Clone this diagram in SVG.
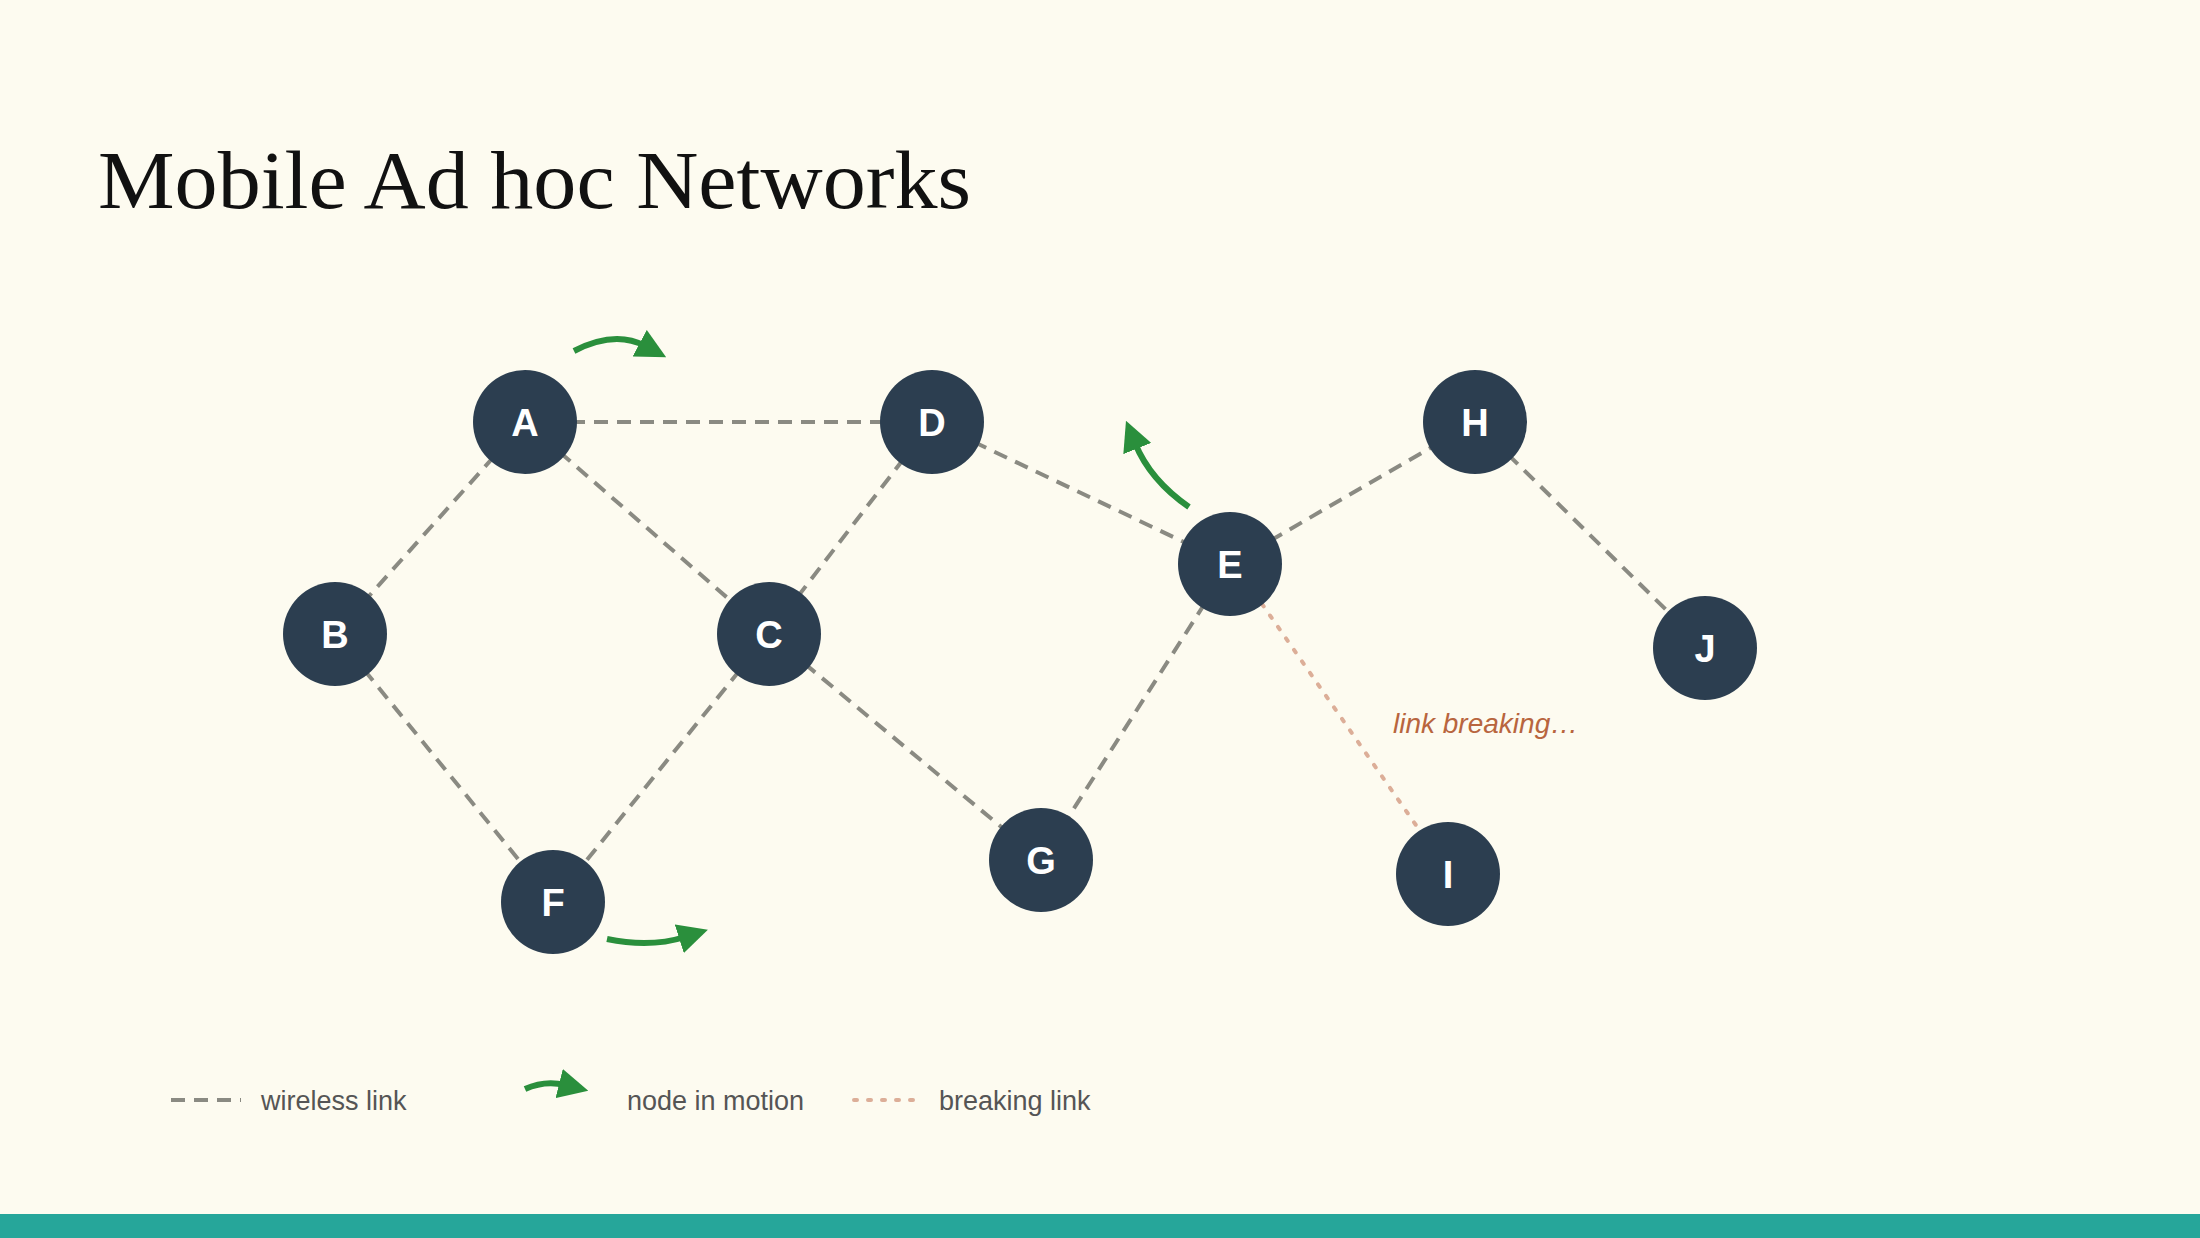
<svg xmlns="http://www.w3.org/2000/svg" width="2200" height="1238" viewBox="0 0 2200 1238">
<defs>
<style>
.n{fill:#2c3e50}
.nl{fill:#fff;font-family:"Liberation Sans",Arial,sans-serif;font-weight:bold;font-size:38px;text-anchor:middle}
.w{stroke:#8a8a82;stroke-width:4;stroke-dasharray:14 9;fill:none}
.b{stroke:#dcae98;stroke-width:4;stroke-dasharray:3 11;stroke-linecap:round;fill:none}
.m{stroke:#2a8f3c;stroke-width:6;fill:none;marker-end:url(#ah)}
.lg{font-family:"Liberation Sans",Arial,sans-serif;font-size:27px;fill:#555}
</style>
<marker id="ah" viewBox="0 0 10 10" refX="2" refY="5" markerWidth="5" markerHeight="5" orient="auto" markerUnits="strokeWidth"><path d="M0,0L10,5L0,10z" fill="#2a8f3c"/></marker>
</defs>
<rect width="2200" height="1238" fill="#fdfbf0"/>
<rect y="1214" width="2200" height="24" fill="#26a69a"/>
<text x="98" y="208" font-family="'Liberation Serif','Times New Roman',serif" font-size="82" textLength="873" lengthAdjust="spacingAndGlyphs" fill="#111">Mobile Ad hoc Networks</text>
<g id="connectors">
<line class="w" x1="525" y1="422" x2="932" y2="422"/>
<line class="w" x1="525" y1="422" x2="335" y2="634"/>
<line class="w" x1="525" y1="422" x2="769" y2="634"/>
<line class="w" x1="932" y1="422" x2="769" y2="634"/>
<line class="w" x1="932" y1="422" x2="1230" y2="564"/>
<line class="w" x1="335" y1="634" x2="553" y2="902"/>
<line class="w" x1="769" y1="634" x2="553" y2="902"/>
<line class="w" x1="769" y1="634" x2="1041" y2="860"/>
<line class="w" x1="1230" y1="564" x2="1041" y2="860"/>
<line class="w" x1="1230" y1="564" x2="1475" y2="422"/>
<line class="w" x1="1475" y1="422" x2="1705" y2="648"/>
<line class="b" x1="1262" y1="604" x2="1418" y2="828"/>
</g>
<g id="motion">
<path class="m" d="M574,351 Q615,330 645,346"/>
<path class="m" d="M607,939 Q650,948 685,937"/>
<path class="m" d="M1189,507 Q1150,480 1135,443"/>
</g>
<g id="A"><circle class="n" cx="525" cy="422" r="52"/><text class="nl" x="525" y="436">A</text></g>
<g id="D"><circle class="n" cx="932" cy="422" r="52"/><text class="nl" x="932" y="436">D</text></g>
<g id="B"><circle class="n" cx="335" cy="634" r="52"/><text class="nl" x="335" y="648">B</text></g>
<g id="C"><circle class="n" cx="769" cy="634" r="52"/><text class="nl" x="769" y="648">C</text></g>
<g id="E"><circle class="n" cx="1230" cy="564" r="52"/><text class="nl" x="1230" y="578">E</text></g>
<g id="H"><circle class="n" cx="1475" cy="422" r="52"/><text class="nl" x="1475" y="436">H</text></g>
<g id="J"><circle class="n" cx="1705" cy="648" r="52"/><text class="nl" x="1705" y="662">J</text></g>
<g id="F"><circle class="n" cx="553" cy="902" r="52"/><text class="nl" x="553" y="916">F</text></g>
<g id="G"><circle class="n" cx="1041" cy="860" r="52"/><text class="nl" x="1041" y="874">G</text></g>
<g id="I"><circle class="n" cx="1448" cy="874" r="52"/><text class="nl" x="1448" y="888">I</text></g>
<text x="1393" y="733" font-family="'Liberation Sans',Arial,sans-serif" font-size="28" font-style="italic" fill="#b8653e">link breaking…</text>
<g id="legend">
<line class="w" x1="171" y1="1100" x2="241" y2="1100"/>
<text class="lg" x="261" y="1110">wireless link</text>
<path class="m" d="M525,1089 Q545,1080 565,1085"/>
<text class="lg" x="627" y="1110">node in motion</text>
<line class="b" x1="854" y1="1100" x2="915" y2="1100"/>
<text class="lg" x="939" y="1110" fill="#c0704a">breaking link</text>
</g>
</svg>
